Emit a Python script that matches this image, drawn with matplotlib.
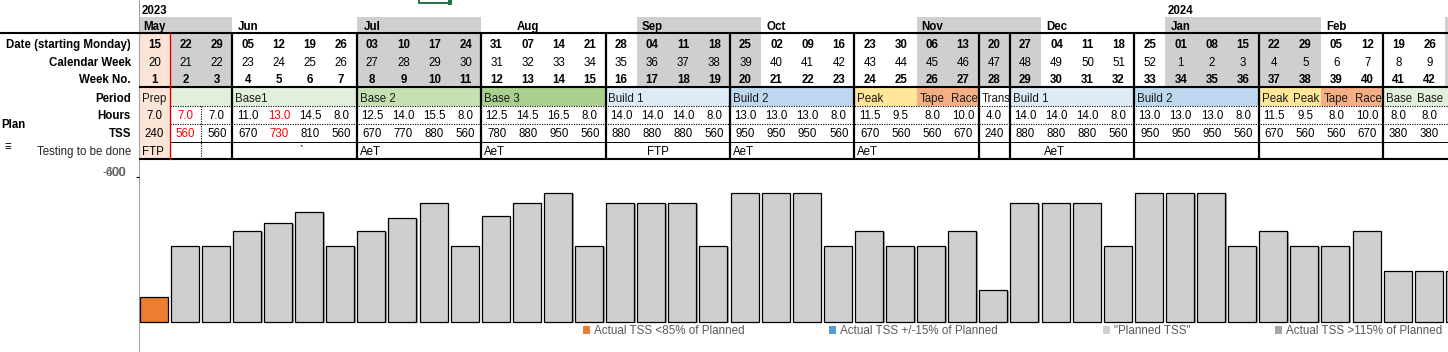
import matplotlib
matplotlib.use("Agg")
import matplotlib.pyplot as plt
from matplotlib.patches import Rectangle, Patch
import matplotlib.patheffects as pe

# ---------------- data ----------------
dates = ["15", "22", "29", "05", "12", "19", "26", "03", "10", "17", "24", "31", "07", "14",
         "21", "28", "04", "11", "18", "25", "02", "09", "16", "23", "30", "06", "13", "20",
         "27", "04", "11", "18", "25", "01", "08", "15", "22", "29", "05", "12", "19", "26", "04"]
cal_weeks = list(range(20, 53)) + list(range(1, 11))
week_no = list(range(1, 44))

month_names = ["May", "Jun", "Jul", "Aug", "Sep", "Oct", "Nov", "Dec", "Jan", "Feb", "Mar"]
month_first = [1, 4, 8, 12, 17, 21, 26, 30, 34, 39, 43]
month_last = [3, 7, 11, 16, 20, 25, 29, 33, 38, 42, 43]
month_label_week = [1, 4, 8, 13, 17, 21, 26, 30, 34, 39, 43]
month_shaded = [True, False, True, False, True, False, True, False, True, False, True]
years = ["2023", "2024"]
year_week = [1, 34]

period_labels = ["Prep", "", "", "Base1", "", "", "", "Base 2", "", "", "", "Base 3", "", "", "",
                 "Build 1", "", "", "", "Build 2", "", "", "", "Peak", "", "Tape", "Race", "Trans",
                 "Build 1", "", "", "", "Build 2", "", "", "", "Peak", "Peak", "Tape", "Race",
                 "Base", "Base", "Base"]
period_colors = (["#FCE4D6"] + ["#E2EFDA"] * 6 + ["#C6E0B4"] * 4 + ["#A9D08E"] * 4 +
                 ["#DDEBF7"] * 4 + ["#BDD7EE"] * 4 + ["#FFE699"] * 2 + ["#F4B084"] * 2 +
                 ["#FFFFFF"] + ["#DDEBF7"] * 4 + ["#BDD7EE"] * 4 + ["#FFE699"] * 2 +
                 ["#F4B084"] * 2 + ["#E2EFDA"] * 3)

hours = [7.0, 7.0, 7.0, 11.0, 13.0, 14.5, 8.0, 12.5, 14.0, 15.5, 8.0, 12.5, 14.5, 16.5, 8.0,
         14.0, 14.0, 14.0, 8.0, 13.0, 13.0, 13.0, 8.0, 11.5, 9.5, 8.0, 10.0, 4.0, 14.0, 14.0,
         14.0, 8.0, 13.0, 13.0, 13.0, 8.0, 11.5, 9.5, 8.0, 10.0, 8.0, 8.0, 8.0]
planned_tss = [240, 560, 560, 670, 730, 810, 560, 670, 770, 880, 560, 780, 880, 950, 560,
               880, 880, 880, 560, 950, 950, 950, 560, 670, 560, 560, 670, 240, 880, 880,
               880, 560, 950, 950, 950, 560, 670, 560, 560, 670, 380, 380, 380]
red_weeks = [2, 5]
actual_tss = {1: 185}   # week -> actual TSS (<85% of planned)

testing = {1: "FTP", 6: "`", 8: "AeT", 12: "AeT", 17: "FTP", 20: "AeT", 24: "AeT", 30: "AeT"}

block_ends = [3, 7, 11, 15, 19, 23, 27, 28, 32, 36, 40]

row_labels = ["Date (starting Monday)", "Calendar Week", "Week No.", "Period", "Hours", "TSS",
              "Testing to be done"]

legend_labels = ["Actual TSS <85% of Planned", "Actual TSS +/-15% of Planned",
                 "\"Planned TSS\"", "Actual TSS >115% of Planned"]
legend_colors = ["#ED7D31", "#5B9BD5", "#D0CECE", "#A5A5A5"]

# ---------------- layout ----------------
W, H = 1448, 352
X0 = 139.0
COLW = 31.1
FONT = ["Liberation Sans Narrow", "Liberation Sans", "DejaVu Sans"]
plt.rcParams["font.family"] = FONT
FS = 8.3
GREY = "#D0CECE"
PEACH = "#FCE4D6"

fig = plt.figure(figsize=(W / 100, H / 100), dpi=100)
ax = fig.add_axes([0, 0, 1, 1])
xl, xr = -X0 / COLW, (W - X0) / COLW
ax.set_xlim(xl, xr)
ax.set_ylim(H, 0)
ax.axis("off")

def px(p):
    return p / COLW

n = len(dates)
n_vis = 42   # columns fully visible (the 43rd only shows a sliver)
# baselines for rows
y_year, y_month = 14, 30
y_date, y_cal, y_wk, y_per, y_hrs, y_tss, y_test = 48.3, 66, 83, 102, 119, 137, 155

# month shading
for name, a, b, sh in zip(month_names, month_first, month_last, month_shaded):
    if sh:
        ax.add_patch(Rectangle((a - 1, 16.5), b - a + 1, 16.5, fc=GREY, ec="none", zorder=0))
        lo = max(a, 2)
        if b >= lo:
            ax.add_patch(Rectangle((lo - 1, 33), b - lo + 1, 54, fc=GREY, ec="none", zorder=0))
# week 1 peach column
ax.add_patch(Rectangle((0, 33), 1, 126, fc=PEACH, ec="none", zorder=0))
# period cells, merged into runs of equal colour (no seams)
i = 0
while i < n:
    j = i
    while j + 1 < n and period_colors[j + 1] == period_colors[i]:
        j += 1
    ax.add_patch(Rectangle((i, 87), j - i + 1, 18.5, fc=period_colors[i], ec="none", zorder=0))
    i = j + 1

# year and month labels
for t, wk in zip(years, year_week):
    ax.text(wk - 0.5, y_year, t, ha="center", va="baseline", fontsize=FS, fontweight="bold")
for name, wk in zip(month_names, month_label_week):
    if wk <= n_vis:
        ax.text(wk - 0.5, y_month, name, ha="center", va="baseline", fontsize=FS,
                fontweight="bold")

# rows of values
for i in range(n_vis):
    xc = i + 0.5
    ax.text(xc, y_date, dates[i], ha="center", va="baseline", fontsize=FS, fontweight="bold")
    ax.text(xc, y_cal, str(cal_weeks[i]), ha="center", va="baseline", fontsize=FS)
    ax.text(xc, y_wk, str(week_no[i]), ha="center", va="baseline", fontsize=FS, fontweight="bold")
    col = "#FF0000" if (i + 1) in red_weeks else "black"
    ax.text(xc, y_hrs, f"{hours[i]:.1f}", ha="center", va="baseline", fontsize=FS, color=col)
    ax.text(xc, y_tss, str(planned_tss[i]), ha="center", va="baseline", fontsize=FS, color=col)

# period labels (clipped to the free space to their right)
for i, lab in enumerate(period_labels[:n_vis]):
    if not lab:
        continue
    j = i + 1
    while j < n and period_labels[j] == "":
        j += 1
    t = ax.text(i + px(3), y_per, lab, ha="left", va="baseline", fontsize=FS, color="#1a1a1a")
    clip = Rectangle((i, 87), j - i - px(1.5), 18.5, transform=ax.transData, fc="none", ec="none")
    t.set_clip_path(clip)

# testing row
for wk, lab in testing.items():
    off = px(10) if lab == "FTP" and wk != 1 else px(3)
    if lab == "`":
        off = px(5)
    ax.text(wk - 1 + off, y_test, lab, ha="left", va="baseline", fontsize=FS)

# row labels
lx = px(131 - X0)
for lab, yb in zip(row_labels, [y_date, y_cal, y_wk, y_per, y_hrs, y_tss, y_test]):
    bold = lab != "Testing to be done"
    ax.text(lx, yb, lab, ha="right", va="baseline", fontsize=FS,
            fontweight="bold" if bold else "normal", color="black" if bold else "#262626")
ax.text(xl + px(1), 128, "Plan", ha="left", va="baseline", fontsize=FS, fontweight="bold")
ax.text(xl + px(4), 150, "\u2261", ha="left", va="baseline", fontsize=8.5, fontweight="bold")

# grid lines
ax.plot([xl, xr], [33, 33], color="black", lw=1.5, zorder=2, solid_capstyle="butt")
ax.plot([0, xr], [87, 87], color="black", lw=1.5, zorder=2, solid_capstyle="butt")
ax.plot([0, xr], [159, 159], color="black", lw=1.5, zorder=2, solid_capstyle="butt")
for yy in (105.5, 123.5):
    ax.plot([1, xr], [yy, yy], color="black", lw=0.8, ls=(0, (1, 1.2)), zorder=2)
ax.plot([1, xr], [141.5, 141.5], color="black", lw=0.7, zorder=2)
for b in block_ends:
    ax.plot([b, b], [33, 159], color="black", lw=1.6, zorder=3, solid_capstyle="butt")
ax.plot([1, 1], [33, 159], color="#E00000", lw=1.0, zorder=3)
ax.plot([2, 2], [105.5, 159], color="black", lw=0.8, ls=(0, (1, 1.2)), zorder=3)
ax.plot([0, 0], [0, H], color="#A6A6A6", lw=0.8, zorder=1)

# excel selection box
ax.plot([9, 9, 10, 10], [0, 3, 3, 0], color="#217346", lw=1.4, zorder=4)
ax.add_patch(Rectangle((10 - px(1.5), 0), px(4), 5, fc="#217346", ec="none", zorder=4))

# ---------------- bar chart ----------------
base_px, scale = 322.3, 7.36
top_px = 160
cax = fig.add_axes([X0 / W, 0, (W - X0) / W, (H - top_px) / H])
cax.set_xlim(0, xr)
cax.set_ylim(-(H - base_px) * scale, (base_px - top_px) * scale)
cax.patch.set_alpha(0)
for s in cax.spines.values():
    s.set_visible(False)
cax.set_xticks([])
cax.set_yticks([(base_px - 177) * scale])
cax.set_yticklabels([""])
cax.tick_params(axis="y", length=2, width=0.8, color="black")

xs = [w - 0.5 - 0.03 for w in week_no]
vals = [actual_tss.get(w, planned_tss[w - 1]) for w in week_no]
cols = [legend_colors[0] if w in actual_tss else legend_colors[2] for w in week_no]
bars = cax.bar(xs, vals, width=0.9, color=cols, edgecolor="black", linewidth=0.9, zorder=2)
for b in bars:
    b.set_path_effects([pe.SimplePatchShadow(offset=(1.2, -0.6), shadow_rgbFace="#9a9a9a", alpha=0.9),
                        pe.Normal()])

fig.text(126 / W, 1 - 173 / H, "-600", ha="right", va="center", fontsize=8.5, color="#595959")
fig.text(126 / W, 1 - 173 / H, "400", ha="right", va="center", fontsize=8.5, color="#595959", alpha=0.8)

# legend entries, laid out like the spreadsheet legend
legend_x = [583, 829, 1103, 1275]
for c, lab, lxp in zip(legend_colors, legend_labels, legend_x):
    lg = fig.legend([Patch(facecolor=c, edgecolor="none")], [lab], loc="center left",
                    bbox_to_anchor=(lxp / W, 1 - 331 / H), frameon=False,
                    fontsize=8.4, handlelength=0.6, handleheight=0.6, handletextpad=0.35,
                    borderpad=0, borderaxespad=0)
    for t in lg.get_texts():
        t.set_color("#595959")

fig.savefig("out.png", dpi=100)
